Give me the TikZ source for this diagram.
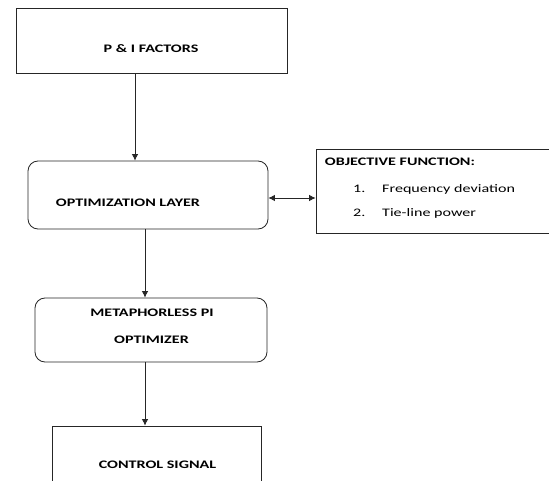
\documentclass[tikz,border=0pt]{standalone}
\usepackage{fontspec}
\setmainfont{Carlito}
\usepackage{graphicx}
\usetikzlibrary{arrows.meta}
\newcommand\widetxt[1]{\scalebox{1.4}[1]{#1}}
\begin{document}
\begin{tikzpicture}[x=1pt,y=-1pt,
  box/.style={draw=black!85, line width=0.8pt, inner sep=0pt, fill=white},
  rbox/.style={box, rounded corners=10pt},
  lbl/.style={inner sep=0pt, font=\fontsize{11.5}{13}\selectfont\bfseries},
  itm/.style={inner sep=0pt, font=\fontsize{11.5}{13}\selectfont},
  conn/.style={draw=black!85, line width=0.8pt, -{Latex[length=6.5pt,width=6.5pt]}},
  dconn/.style={draw=black!85, line width=0.8pt, {Latex[length=6.5pt,width=6.5pt]}-{Latex[length=6.5pt,width=6.5pt]}}]
\useasboundingbox (0,0) rectangle (549,481);
\clip (0,0) rectangle (549,481);
\fill[white] (0,0) rectangle (549,481);
% boxes
\node[box, minimum width=271pt, minimum height=65pt] (pf) at (151.5,40.5) {};
\node[rbox, minimum width=240pt, minimum height=68pt] (opt) at (148,195) {};
\node[box, minimum width=284pt, minimum height=84pt] (obj) at (458,191) {};
\node[rbox, minimum width=232pt, minimum height=64pt] (meta) at (151,330) {};
\node[box, minimum width=209pt, minimum height=94pt] (ctrl) at (156.5,473) {};
% texts
\node[lbl] (pft) at (151,48.5) {\widetxt{P \& I FACTORS}};
\node[lbl] (optt) at (128,203) {\widetxt{OPTIMIZATION LAYER}};
\node[lbl] (objt) at (400,161.7) {\widetxt{OBJECTIVE FUNCTION:}};
\node[itm, anchor=base west] (n1) at (353,193) {\widetxt{1.}};
\node[itm, anchor=base west] (i1) at (382,193) {\widetxt{Frequency deviation}};
\node[itm, anchor=base west] (n2) at (353,217) {\widetxt{2.}};
\node[itm, anchor=base west] (i2) at (382,217) {\widetxt{Tie-line power}};
\node[lbl] (metat1) at (152,312.3) {\widetxt{METAPHORLESS PI}};
\node[lbl] (metat2) at (151.5,340) {\widetxt{OPTIMIZER}};
\node[lbl] (ctrlt) at (157.5,465) {\widetxt{CONTROL SIGNAL}};
% connectors
\draw[conn] ([xshift=-16.5pt]pf.south) -- ([xshift=-13pt]opt.north);
\draw[dconn] ([yshift=-3pt]opt.east) -- ([yshift=-7pt]obj.west);
\draw[conn] ([xshift=-3pt]opt.south) -- ([xshift=-6pt]meta.north);
\draw[conn] ([xshift=-6pt]meta.south) -- ([xshift=-11.5pt]ctrl.north);
\end{tikzpicture}
\end{document}
